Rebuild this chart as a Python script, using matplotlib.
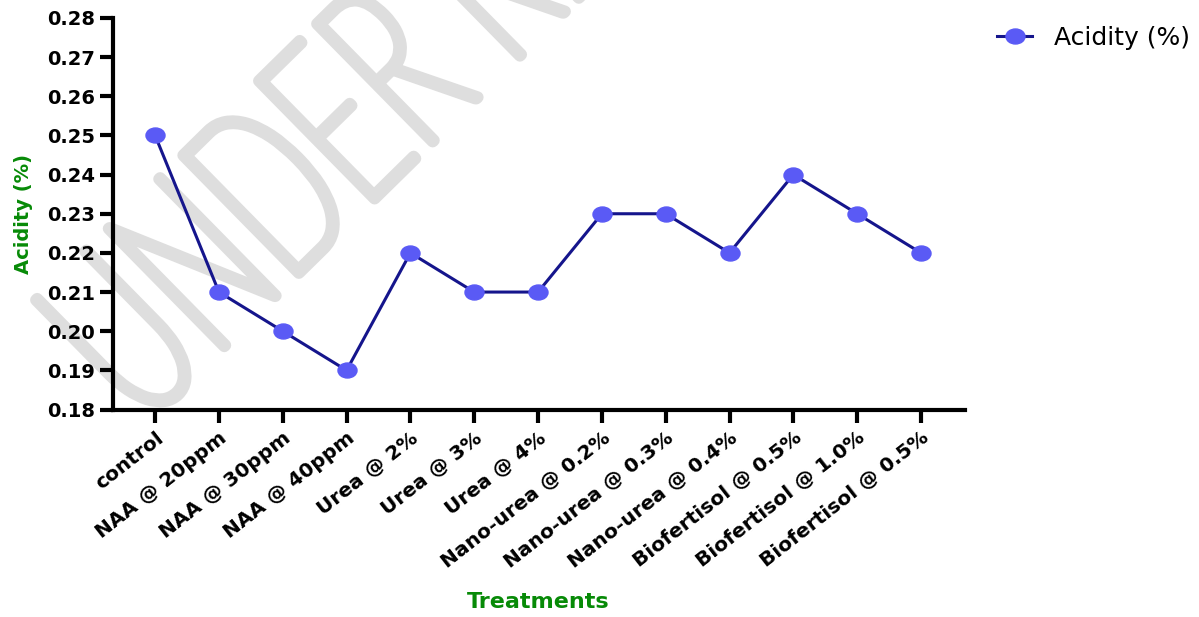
import matplotlib
matplotlib.use("Agg")
import matplotlib.pyplot as plt
import numpy as np
from matplotlib.path import Path
from matplotlib.patches import PathPatch
from matplotlib.textpath import TextPath
from matplotlib.font_manager import FontProperties
from matplotlib.transforms import Affine2D, ScaledTranslation

treatments = ["control", "NAA @ 20ppm", "NAA @ 30ppm", "NAA @ 40ppm",
              "Urea @ 2%", "Urea @ 3%", "Urea @ 4%",
              "Nano-urea @ 0.2%", "Nano-urea @ 0.3%", "Nano-urea @ 0.4%",
              "Biofertisol @ 0.5%", "Biofertisol @ 1.0%", "Biofertisol @ 0.5%"]
acidity = [0.25, 0.21, 0.20, 0.19, 0.22, 0.21, 0.21, 0.23, 0.23, 0.22, 0.24, 0.23, 0.22]
y_ticks = [0.18, 0.19, 0.20, 0.21, 0.22, 0.23, 0.24, 0.25, 0.26, 0.27, 0.28]

plt.rcParams['font.family'] = ['DejaVu Sans']

W, H = 1199, 617
fig = plt.figure(figsize=(W / 100, H / 100), dpi=100)
ax = fig.add_axes([113 / W, 1 - 409.5 / H, (965 - 113) / W, (409.5 - 18) / H])
ax.set_facecolor('none')


# watermark "UNDER REVIEW": tall, rotated text behind the chart, sized in pixels
def ext(s, fp):
    return TextPath((0, 0), s, size=1, prop=fp).get_extents()


wm_fp = FontProperties(family='Lato', weight=100)
cap_h = ext("E", wm_fp).height
adv_unde = ext("UNDEE", wm_fp).x1 - ext("E", wm_fp).x1
u_x0 = ext("U", wm_fp).x0
span = adv_unde + ext("R", wm_fp).x0 - u_x0
sx, sy = 394 / span, 165 / cap_h
rot = Affine2D().scale(sx, sy).rotate_deg(44.5)
px, py = rot.transform((u_x0, cap_h))
wm_tr = (rot.translate(36 - px, (H - 300) - py).scale(1 / 100) + fig.dpi_scale_trans)
tp = TextPath((0, 0), "UNDER REVIEW", size=1, prop=wm_fp)
# thin glyphs thickened with a round stroke give the soft, even strokes of the original
fig.add_artist(PathPatch(tp, transform=wm_tr, facecolor='#dedede', edgecolor='#dedede',
                         linewidth=8.5, joinstyle='round', capstyle='round', zorder=-1))

# slightly wide ellipse marker like the reference
ellipse = Path.unit_circle().transformed(Affine2D().scale(1.27, 1.0))

x = np.arange(len(treatments))
ax.plot(x, acidity, color='#15158c', lw=2.2, marker=ellipse, markersize=13.7,
        markerfacecolor='#5a5af5', markeredgecolor='#5a5af5', label='Acidity (%)',
        clip_on=False, zorder=3)

ax.set_xlim(-0.66, len(treatments) - 1 + 0.69)
ax.set_ylim(0.18, 0.28)
ax.set_yticks(y_ticks)
ax.set_yticklabels([f"{v:.2f}" for v in y_ticks], fontsize=14, fontweight='bold')
ax.set_xticks(x)
ax.set_xticklabels(treatments, rotation=38, ha='right', rotation_mode='anchor',
                   fontsize=14.5, fontweight='bold')
shift = ScaledTranslation(5 / 100, 0, fig.dpi_scale_trans)
for lab in ax.get_xticklabels():
    lab.set_transform(lab.get_transform() + shift)

for s in ['top', 'right']:
    ax.spines[s].set_visible(False)
for s in ['left', 'bottom']:
    ax.spines[s].set_linewidth(3)
ax.tick_params(axis='both', length=9.5, width=3, direction='out')
ax.tick_params(axis='y', pad=3.5)
ax.tick_params(axis='x', pad=4)

ax.set_ylabel("Acidity (%)", color='#078a07', fontsize=14, fontweight='bold')
ax.yaxis.set_label_coords(-0.094, 0.5)
ax.set_xlabel("Treatments", color='#078a07', fontsize=16, fontweight='bold')
ax.xaxis.set_label_coords(0.499, -0.465)

fig.legend(loc='center left', bbox_to_anchor=(997 / W, 1 - 38 / H), frameon=False,
           fontsize=18, handlelength=1.4, handletextpad=0.9, borderpad=0,
           borderaxespad=0)

fig.savefig("out.png", dpi=100)
